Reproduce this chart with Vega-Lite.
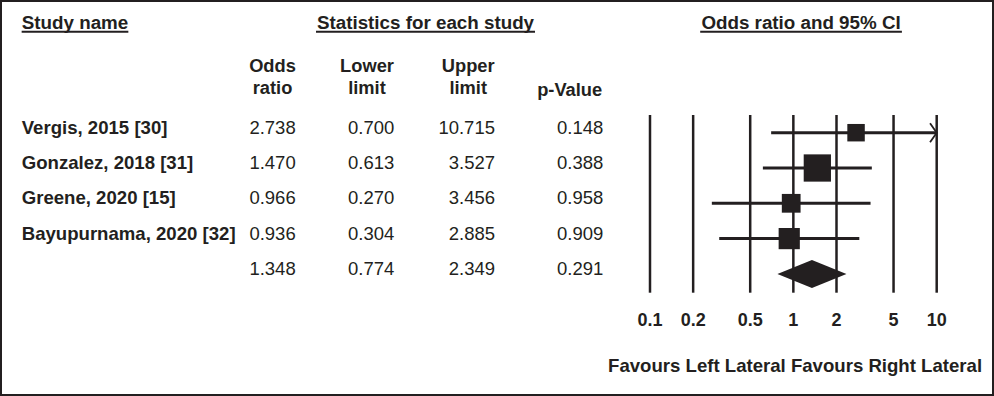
{
  "$schema": "https://vega.github.io/schema/vega-lite/v6.json",
  "width": 994,
  "height": 396,
  "padding": 0,
  "autosize": {"type": "none"},
  "background": "white",
  "config": {
    "view": {"stroke": "#231f20", "strokeWidth": 4},
    "axis": {"disable": true},
    "text": {"font": "Liberation Sans", "fontSize": 18.5, "color": "#231f20"}
  },
  "datasets": {
    "studies": [
      {"study": "Vergis, 2015 [30]", "kind": "study", "or": 2.738, "lower": 0.700, "upper": 10.715, "p": 0.148, "weight": 16.5},
      {"study": "Gonzalez, 2018 [31]", "kind": "study", "or": 1.470, "lower": 0.613, "upper": 3.527, "p": 0.388, "weight": 40.2},
      {"study": "Greene, 2020 [15]", "kind": "study", "or": 0.966, "lower": 0.270, "upper": 3.456, "p": 0.958, "weight": 19.0},
      {"study": "Bayupurnama, 2020 [32]", "kind": "study", "or": 0.936, "lower": 0.304, "upper": 2.885, "p": 0.909, "weight": 24.3},
      {"study": "Overall", "kind": "summary", "or": 1.348, "lower": 0.774, "upper": 2.349, "p": 0.291}
    ],
    "ticks": [
      {"value": 0.1}, {"value": 0.2}, {"value": 0.5}, {"value": 1}, {"value": 2}, {"value": 5}, {"value": 10}
    ]
  },
  "data": {"name": "studies"},
  "layer": [
    {
      "layer": [
        {
          "transform": [{"filter": "datum.kind == 'study'"}],
          "mark": {"type": "text", "align": "left", "baseline": "alphabetic", "fontWeight": "bold", "fontSize": 18.6, "dy": 1},
          "encoding": {
            "x": {"datum": 1, "type": "quantitative", "scale": {"domain": [1, 2, 3, 4, 5], "range": [21.7, 295.7, 394.3, 495, 603.3], "nice": false, "zero": false}, "axis": null},
            "y": {"field": "study", "type": "nominal", "scale": {"type": "point", "domain": ["Vergis, 2015 [30]", "Gonzalez, 2018 [31]", "Greene, 2020 [15]", "Bayupurnama, 2020 [32]", "Overall"], "range": [132.7, 273.9], "padding": 0}, "axis": null},
            "text": {"field": "study"}
          }
        },
        {
          "mark": {"type": "text", "align": "right", "baseline": "alphabetic", "dy": 1},
          "encoding": {
            "x": {"datum": 2, "type": "quantitative", "axis": null},
            "y": {"field": "study", "type": "nominal", "axis": null},
            "text": {"field": "or", "format": ".3f"}
          }
        },
        {
          "mark": {"type": "text", "align": "right", "baseline": "alphabetic", "dy": 1},
          "encoding": {
            "x": {"datum": 3, "type": "quantitative", "axis": null},
            "y": {"field": "study", "type": "nominal", "axis": null},
            "text": {"field": "lower", "format": ".3f"}
          }
        },
        {
          "mark": {"type": "text", "align": "right", "baseline": "alphabetic", "dy": 1},
          "encoding": {
            "x": {"datum": 4, "type": "quantitative", "axis": null},
            "y": {"field": "study", "type": "nominal", "axis": null},
            "text": {"field": "upper", "format": ".3f"}
          }
        },
        {
          "mark": {"type": "text", "align": "right", "baseline": "alphabetic", "dy": 1},
          "encoding": {
            "x": {"datum": 5, "type": "quantitative", "axis": null},
            "y": {"field": "study", "type": "nominal", "axis": null},
            "text": {"field": "p", "format": ".3f"}
          }
        },
        {
          "data": {"values": [{"header": "Odds\nratio"}]},
          "mark": {"type": "text", "align": "center", "baseline": "alphabetic", "fontWeight": "bold", "fontSize": 18.3, "lineBreak": "\n", "lineHeight": 22.6, "dx": -23.2, "dy": -61},
          "encoding": {
            "x": {"datum": 2, "type": "quantitative", "axis": null},
            "y": {"datum": "Vergis, 2015 [30]", "type": "nominal", "axis": null},
            "text": {"field": "header"}
          }
        },
        {
          "data": {"values": [{"header": "Lower\nlimit"}]},
          "mark": {"type": "text", "align": "center", "baseline": "alphabetic", "fontWeight": "bold", "fontSize": 18.3, "lineBreak": "\n", "lineHeight": 22.6, "dx": -27.3, "dy": -61},
          "encoding": {
            "x": {"datum": 3, "type": "quantitative", "axis": null},
            "y": {"datum": "Vergis, 2015 [30]", "type": "nominal", "axis": null},
            "text": {"field": "header"}
          }
        },
        {
          "data": {"values": [{"header": "Upper\nlimit"}]},
          "mark": {"type": "text", "align": "center", "baseline": "alphabetic", "fontWeight": "bold", "fontSize": 18.3, "lineBreak": "\n", "lineHeight": 22.6, "dx": -26.8, "dy": -61},
          "encoding": {
            "x": {"datum": 4, "type": "quantitative", "axis": null},
            "y": {"datum": "Vergis, 2015 [30]", "type": "nominal", "axis": null},
            "text": {"field": "header"}
          }
        },
        {
          "data": {"values": [{"header": "p-Value"}]},
          "mark": {"type": "text", "align": "center", "baseline": "alphabetic", "fontWeight": "bold", "fontSize": 18.3, "dx": -33.6, "dy": -37.2},
          "encoding": {
            "x": {"datum": 5, "type": "quantitative", "axis": null},
            "y": {"datum": "Vergis, 2015 [30]", "type": "nominal", "axis": null},
            "text": {"field": "header"}
          }
        },
        {
          "data": {"values": [{"heading": "Study name"}]},
          "layer": [
            {
              "mark": {"type": "text", "align": "center", "baseline": "alphabetic", "fontWeight": "bold", "fontSize": 18.8, "dx": 53.3, "dy": -103.4},
              "encoding": {
                "x": {"datum": 1, "type": "quantitative", "axis": null},
                "y": {"datum": "Vergis, 2015 [30]", "type": "nominal", "axis": null},
                "text": {"field": "heading"}
              }
            },
            {
              "mark": {"type": "tick", "orient": "horizontal", "size": 106.7, "thickness": 2, "opacity": 1, "color": "#231f20", "xOffset": 53.3, "yOffset": -101},
              "encoding": {
                "x": {"datum": 1, "type": "quantitative", "axis": null},
                "y": {"datum": "Vergis, 2015 [30]", "type": "nominal", "axis": null}
              }
            }
          ]
        },
        {
          "data": {"values": [{"heading": "Statistics for each study"}]},
          "layer": [
            {
              "mark": {"type": "text", "align": "center", "baseline": "alphabetic", "fontWeight": "bold", "fontSize": 18.8, "dx": 31.2, "dy": -103.4},
              "encoding": {
                "x": {"datum": 3, "type": "quantitative", "axis": null},
                "y": {"datum": "Vergis, 2015 [30]", "type": "nominal", "axis": null},
                "text": {"field": "heading"}
              }
            },
            {
              "mark": {"type": "tick", "orient": "horizontal", "size": 219, "thickness": 2, "opacity": 1, "color": "#231f20", "xOffset": 31.2, "yOffset": -101},
              "encoding": {
                "x": {"datum": 3, "type": "quantitative", "axis": null},
                "y": {"datum": "Vergis, 2015 [30]", "type": "nominal", "axis": null}
              }
            }
          ]
        }
      ]
    },
    {
      "layer": [
        {
          "data": {"name": "ticks"},
          "mark": {"type": "rule", "strokeWidth": 2.5, "color": "#231f20", "yOffset": -17.7, "y2Offset": 18.8},
          "encoding": {
            "x": {"field": "value", "type": "quantitative", "scale": {"type": "log", "domain": [0.1, 10], "range": [650, 936.7], "clamp": true, "nice": false}, "axis": null},
            "y": {"datum": "Vergis, 2015 [30]", "type": "nominal", "axis": null},
            "y2": {"datum": "Overall"}
          }
        },
        {
          "transform": [{"filter": "datum.kind == 'study'"}],
          "mark": {"type": "rule", "strokeWidth": 3, "color": "#231f20"},
          "encoding": {
            "x": {"field": "lower", "type": "quantitative", "axis": null},
            "x2": {"field": "upper"},
            "y": {"field": "study", "type": "nominal", "axis": null}
          }
        },
        {
          "transform": [{"filter": "datum.upper > 10"}],
          "mark": {"type": "point", "shape": "M-0.7,-1L0,0L-0.7,1", "size": 361, "filled": false, "strokeWidth": 1.8, "opacity": 1, "color": "#231f20"},
          "encoding": {
            "x": {"field": "upper", "type": "quantitative", "axis": null},
            "y": {"field": "study", "type": "nominal", "axis": null}
          }
        },
        {
          "transform": [{"filter": "datum.kind == 'study'"}],
          "mark": {"type": "square", "filled": true, "opacity": 1, "color": "#231f20"},
          "encoding": {
            "x": {"field": "or", "type": "quantitative", "axis": null},
            "y": {"field": "study", "type": "nominal", "axis": null},
            "size": {"field": "weight", "type": "quantitative", "scale": {"domain": [0, 40], "range": [0, 740]}, "legend": null}
          }
        },
        {
          "transform": [{"filter": "datum.kind == 'summary'"}],
          "mark": {"type": "point", "shape": "M-1,0L0,-0.406L1,0L0,0.406Z", "size": 4761, "filled": true, "opacity": 1, "color": "#231f20"},
          "encoding": {
            "x": {"field": "or", "type": "quantitative", "axis": null},
            "y": {"field": "study", "type": "nominal", "axis": null}
          }
        },
        {
          "data": {"name": "ticks"},
          "mark": {"type": "text", "align": "center", "baseline": "alphabetic", "fontWeight": "bold", "fontSize": 18, "dy": 52},
          "encoding": {
            "x": {"field": "value", "type": "quantitative", "axis": null},
            "y": {"datum": "Overall", "type": "nominal", "axis": null},
            "text": {"field": "value", "type": "quantitative", "format": "~g"}
          }
        },
        {
          "data": {"values": [{"heading": "Odds ratio and 95% CI"}]},
          "layer": [
            {
              "mark": {"type": "text", "align": "center", "baseline": "alphabetic", "fontWeight": "bold", "fontSize": 18.8, "dx": 7.7, "dy": -103.4},
              "encoding": {
                "x": {"datum": 1, "type": "quantitative", "axis": null},
                "y": {"datum": "Vergis, 2015 [30]", "type": "nominal", "axis": null},
                "text": {"field": "heading"}
              }
            },
            {
              "mark": {"type": "tick", "orient": "horizontal", "size": 201.7, "thickness": 2, "opacity": 1, "color": "#231f20", "xOffset": 7.7, "yOffset": -101},
              "encoding": {
                "x": {"datum": 1, "type": "quantitative", "axis": null},
                "y": {"datum": "Vergis, 2015 [30]", "type": "nominal", "axis": null}
              }
            }
          ]
        },
        {
          "data": {"values": [{"note": "Favours Left Lateral Favours Right Lateral"}]},
          "mark": {"type": "text", "align": "center", "baseline": "alphabetic", "fontWeight": "bold", "fontSize": 18.6, "dx": 1.7, "dy": 97.6},
          "encoding": {
            "x": {"datum": 1, "type": "quantitative", "axis": null},
            "y": {"datum": "Overall", "type": "nominal", "axis": null},
            "text": {"field": "note"}
          }
        }
      ]
    }
  ],
  "resolve": {"scale": {"x": "independent"}}
}
